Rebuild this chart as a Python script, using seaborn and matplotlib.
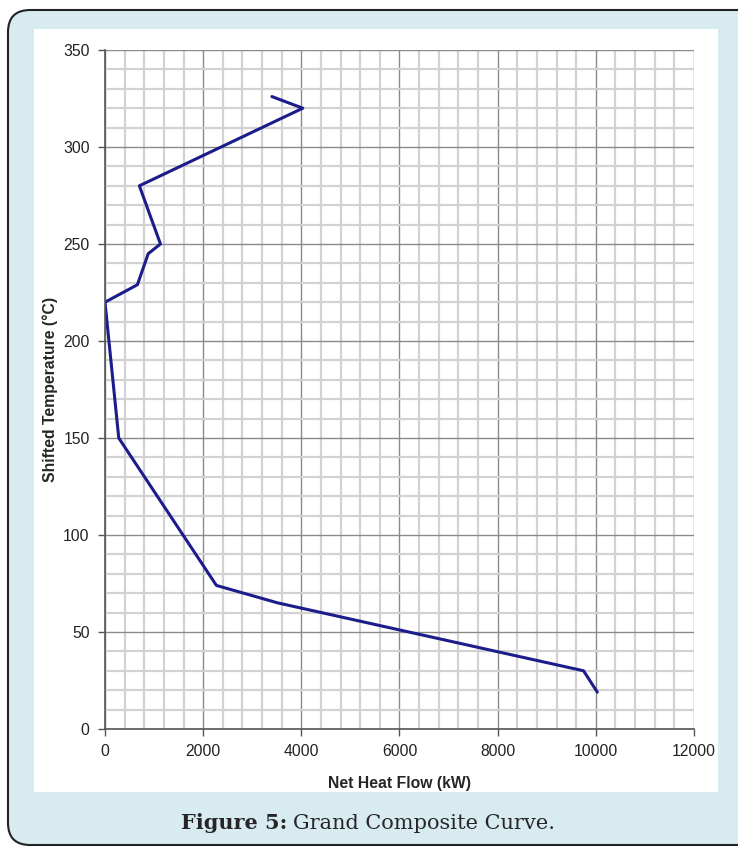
import pandas as pd
import numpy as np
import matplotlib
matplotlib.use("Agg")
import matplotlib.pyplot as plt
import seaborn as sns
from matplotlib.patches import FancyBboxPatch, Rectangle
from matplotlib.ticker import MultipleLocator

# Grand composite curve
heat_flow = [3400, 4030, 700, 1130, 880, 660, 0, 280, 2270, 3520, 9750, 10030]
shifted_temp = [326, 320, 280, 250, 245, 229, 220, 150, 74, 65, 30, 19]

x_ticks = [0, 2000, 4000, 6000, 8000, 10000, 12000]
y_ticks = [0, 50, 100, 150, 200, 250, 300, 350]

df = pd.DataFrame({"Net Heat Flow (kW)": heat_flow,
                   "Shifted Temperature (°C)": shifted_temp})

sns.set_theme(style="white")
plt.rcParams["font.family"] = ["Liberation Sans", "DejaVu Sans"]

W, H = 738, 847
fig = plt.figure(figsize=(W / 100, H / 100), dpi=100)
fig.patch.set_facecolor("white")

# light blue rounded frame and white panel
frame = FancyBboxPatch((8 / W, 2 / H), 760 / W, 835 / H,
                       boxstyle="round,pad=0,rounding_size=0.03",
                       transform=fig.transFigure, facecolor="#d7ebf0",
                       edgecolor="#222222", linewidth=1.5, zorder=-2,
                       mutation_aspect=W / H)
fig.patches.append(frame)
panel = Rectangle((34 / W, 1 - 792 / H), (718 - 34) / W, (792 - 29) / H,
                  transform=fig.transFigure, facecolor="white",
                  edgecolor="none", zorder=-1)
fig.patches.append(panel)

ax = fig.add_axes([105 / W, 1 - 729 / H, (694 - 105) / W, (729 - 50) / H])
ax.set_zorder(2)
ax.set_facecolor("white")

sns.lineplot(data=df, x="Net Heat Flow (kW)", y="Shifted Temperature (°C)",
             sort=False, estimator=None, color="#1c1c8a", linewidth=2.2, ax=ax)

ax.set_xlim(0, 12000)
ax.set_ylim(0, 350)
ax.set_xticks(x_ticks)
ax.set_yticks(y_ticks)
ax.xaxis.set_minor_locator(MultipleLocator(400))
ax.yaxis.set_minor_locator(MultipleLocator(10))
ax.grid(which="major", color="#8a8a8a", linewidth=1.0)
ax.grid(which="minor", color="#d2d2d2", linewidth=1.6)
ax.set_axisbelow(True)

for side in ["top", "right"]:
    ax.spines[side].set_visible(False)
for side in ["left", "bottom"]:
    ax.spines[side].set_color("#555555")
    ax.spines[side].set_linewidth(1.2)

ax.tick_params(which="major", direction="out", length=5, width=1,
               color="#555555", labelsize=11.3, labelcolor="#222222",
               left=True, bottom=True, pad=6)
ax.tick_params(which="minor", length=0)

ax.set_xlabel("Net Heat Flow (kW)", fontsize=11.3, fontweight="bold",
              labelpad=12)
ax.set_ylabel("Shifted Temperature (°C)", fontsize=11.3, fontweight="bold",
              labelpad=4)

fig.text(287 / W, 1 - 823 / H, "Figure 5:", ha="right", va="center",
         fontsize=15, fontweight="bold", family="DejaVu Serif", zorder=3)
fig.text(293 / W, 1 - 823 / H, "Grand Composite Curve.", ha="left",
         va="center", fontsize=15, family="DejaVu Serif", zorder=3)

fig.savefig("out.png", dpi=100)
